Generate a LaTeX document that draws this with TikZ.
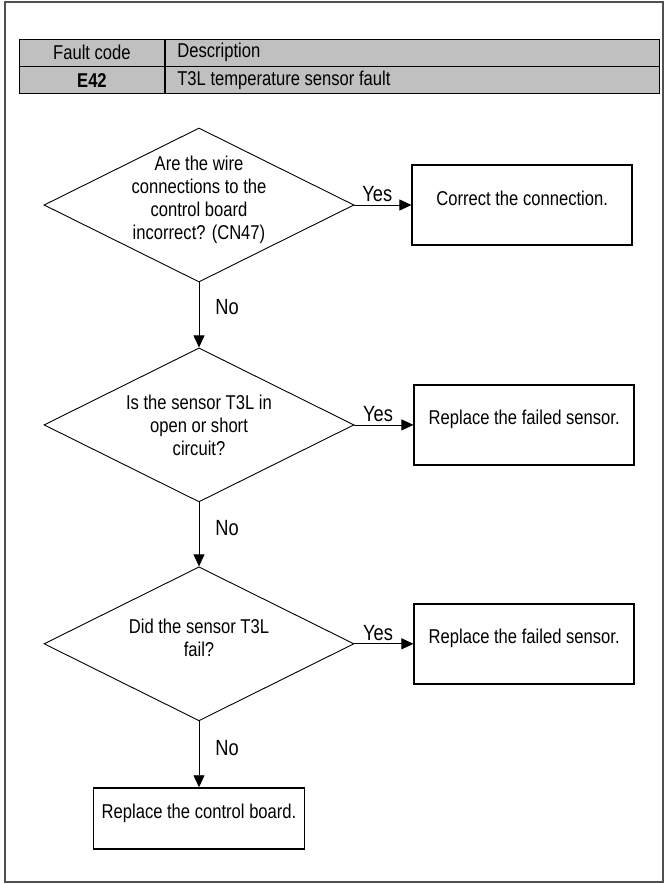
\documentclass[tikz,border=0pt]{standalone}
\usepackage{fontspec}
\setmainfont{Liberation Sans}[FakeStretch=0.83]
\usepackage{tikz}
\usetikzlibrary{arrows.meta,positioning,shapes.geometric}
\definecolor{hdrgray}{RGB}{192,192,192}
\definecolor{framegray}{RGB}{80,80,80}

\begin{document}
\begin{tikzpicture}[x=1pt,y=1pt,>={Triangle[length=12pt,width=11pt]},font=\fontsize{20}{23}\selectfont,every node/.style={align=center},
    cell/.style={draw,fill=hdrgray,line width=0.9pt,minimum height=26.5pt,inner sep=0pt},
    decision/.style={draw,diamond,line width=0.9pt,minimum width=310pt,minimum height=154pt,inner sep=0pt},
    action/.style={draw,line width=1.4pt,minimum width=220pt,minimum height=80pt,text height=10pt,text depth=10pt},
    answer/.style={font=\fontsize{22}{26}\selectfont,inner sep=3pt}]
    \useasboundingbox (0,0) rectangle (667,-884);
    \draw[framegray,line width=1.2pt] (5,-2) rectangle (663,-882);
    % fault table
    \node[cell,minimum width=145pt,anchor=north west] (hcode) at (19,-39) {Fault code};
    \node[cell,minimum width=494pt,text width=470pt,align=flush left,right=0pt of hcode] (hdesc) {Description};
    \node[cell,minimum width=145pt,below=0pt of hcode] (fcode) {\textbf{E42}};
    \node[cell,minimum width=494pt,text width=470pt,align=flush left,below=0pt of hdesc] (fdesc) {T3L temperature sensor fault};
    % flow
    \node[decision] (qwire) at (199,-205) {};
    \node[decision,below=65pt of qwire] (qsensor) {};
    \node[decision,below=64pt of qsensor] (qfail) {};
    \node[yshift=5pt] (qwiretxt) at (qwire) {Are the wire\\connections to the\\control board\\incorrect? (CN47)};
    \node (qsensortxt) at (qsensor) {Is the sensor T3L in\\open or short\\circuit?};
    \node[yshift=6pt] (qfailtxt) at (qfail) {Did the sensor T3L\\fail?};
    \node[action,right=57pt of qwire] (fixconn) {Correct the connection.};
    \node[action,right=59pt of qsensor] (newsensor) {Replace the failed sensor.};
    \node[action,right=59pt of qfail] (newsensorb) {Replace the failed sensor.};
    \node[action,minimum width=211pt,minimum height=61pt,below=66pt of qfail] (newboard) {Replace the control board.};
    \draw[->,line width=0.8pt] (qwire.east) -- node[answer,above,pos=0.4]{Yes} (qwire.east -| fixconn.west);
    \draw[->,line width=0.8pt] (qsensor.east) -- node[answer,above,pos=0.4]{Yes} (qsensor.east -| newsensor.west);
    \draw[->,line width=0.8pt] (qfail.east) -- node[answer,above,pos=0.4]{Yes} (qfail.east -| newsensorb.west);
    \draw[->,line width=0.8pt] (qwire.south) -- node[answer,right=13pt,pos=0.38]{No} (qsensor.north);
    \draw[->,line width=0.8pt] (qsensor.south) -- node[answer,right=13pt,pos=0.4]{No} (qfail.north);
    \draw[->,line width=0.8pt] (qfail.south) -- node[answer,right=13pt,pos=0.4]{No} (newboard.north);
\end{tikzpicture}
\end{document}
